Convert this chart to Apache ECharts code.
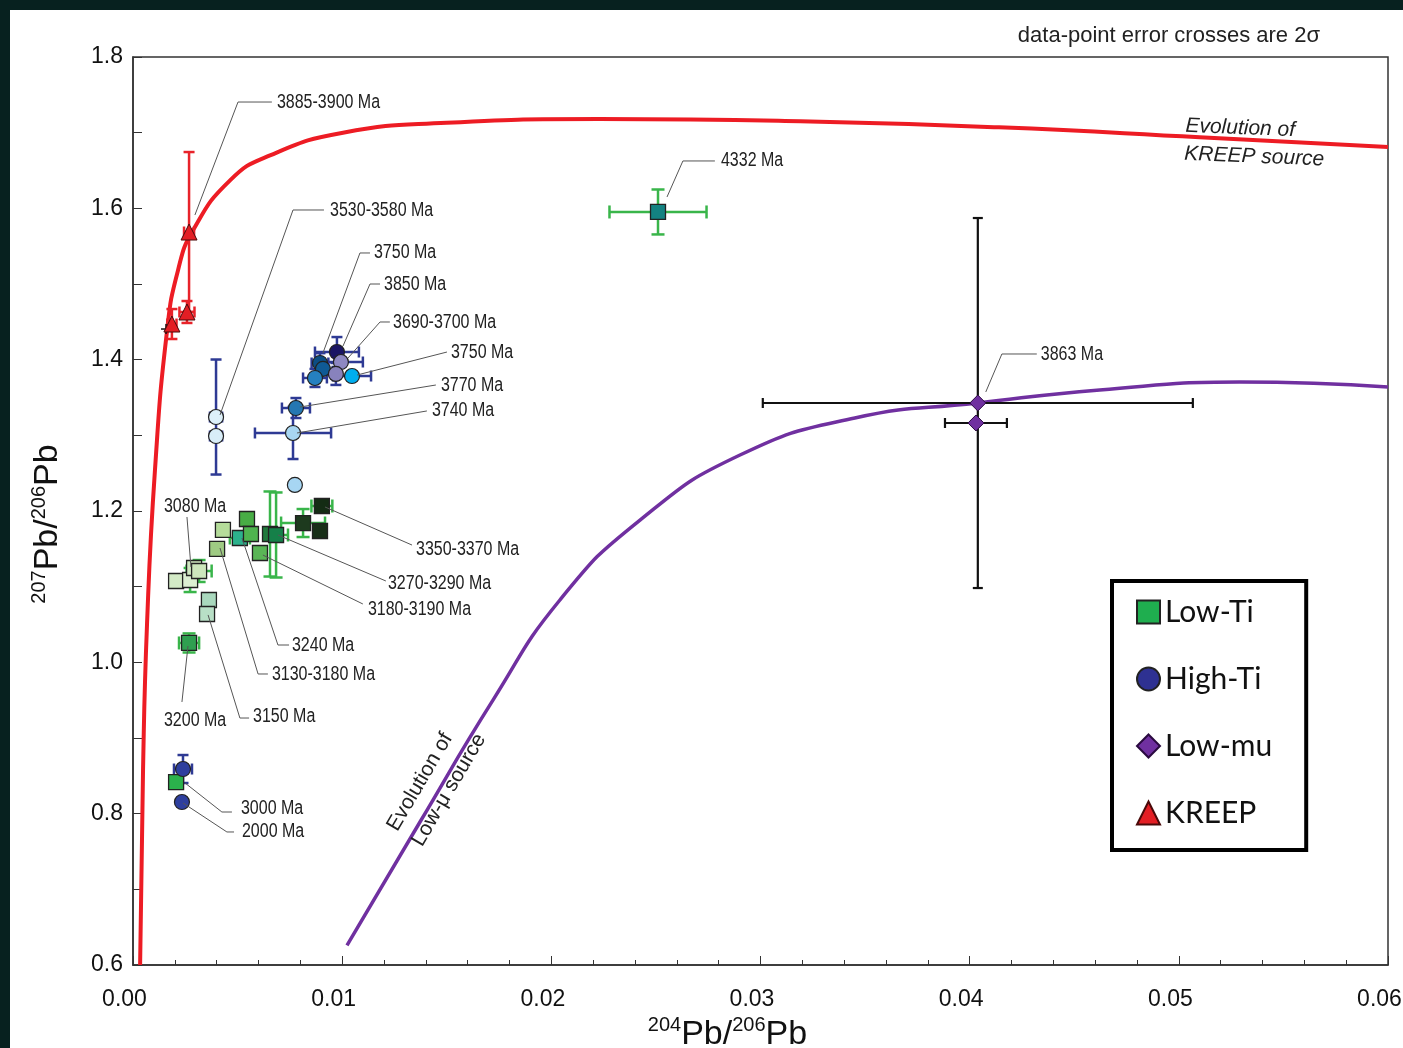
<!DOCTYPE html>
<html>
<head>
<meta charset="utf-8">
<title>Pb isotope evolution</title>
<script src="https://cdn.jsdelivr.net/npm/echarts@6/dist/echarts.min.js"></script>
<style>
  html, body { margin: 0; padding: 0; width: 1403px; height: 1048px; overflow: hidden; background: #07211f; }
  #paper { position: absolute; left: 10px; top: 10px; width: 1393px; height: 1038px; background: #fff; }
  #chart { position: absolute; left: 0; top: 0; width: 1403px; height: 1048px; }
</style>
</head>
<body>
<div id="paper"></div>
<div id="chart"></div>
<script>
// tick labels
var xTickLabels = ['0.00', '0.01', '0.02', '0.03', '0.04', '0.05', '0.06'];
var yTickLabels = ['0.6', '0.8', '1.0', '1.2', '1.4', '1.6', '1.8'];

// Low-Ti (squares)
var lowTiX    = [0.00206, 0.00273, 0.00292, 0.00316, 0.00363, 0.00354, 0.00268, 0.0043, 0.00402, 0.00545, 0.00511, 0.00564, 0.00607, 0.00655, 0.00684, 0.00813, 0.00903, 0.00894, 0.00206, 0.0251];
var lowTiY    = [1.1075, 1.1088, 1.1247, 1.1207, 1.0824, 1.0639, 1.0256, 1.175, 1.150, 1.1894, 1.1643, 1.1696, 1.1445, 1.1696, 1.1683, 1.1841, 1.2066, 1.1736, 0.8418, 1.5952];
var lowTiXErr = [0, 0, 0, 0.0006, 0, 0, 0.00048, 0, 0, 0, 0.00048, 0, 0, 0, 0.00057, 0.00105, 0.0005, 0, 0, 0.00232];
var lowTiYErr = [0, 0.0159, 0, 0.0145, 0, 0, 0.0126, 0, 0, 0, 0, 0, 0, 0.0562, 0.0562, 0.0185, 0, 0, 0, 0.0297];
var lowTiFill = ['#d3eac6', '#dcefd2', '#d0e7c1', '#cde6bd', '#a9d8bd', '#b8dfc6', '#2f9f50', '#b5dc9a', '#9fcb83', '#48ad45',
                 '#2cb18c', '#4fb44f', '#5ab556', '#217a3d', '#158049', '#1d3a1e', '#142c14', '#182f18', '#2bb24c', '#138281'];

// High-Ti (circles)
var highTiX    = [0.00975, 0.00994, 0.00894, 0.00908, 0.0087, 0.0097, 0.01047, 0.00779, 0.00765, 0.00397, 0.00397, 0.00774, 0.00239, 0.00234];
var highTiY    = [1.4101, 1.3969, 1.3956, 1.3877, 1.3758, 1.3811, 1.3784, 1.3361, 1.3031, 1.3242, 1.2991, 1.2344, 0.859, 0.8154];
var highTiXErr = [0.00105, 0.00105, 0.0004, 0, 0.00057, 0, 0.00091, 0.00067, 0.00182, 0.00029, 0.00029, 0, 0.00043, 0];
var highTiYErr = [0.0198, 0, 0.013, 0, 0.0119, 0.0145, 0, 0.0132, 0.0344, 0.076, 0, 0, 0.0185, 0];
var highTiFill = ['#1b1564', '#8e88c2', '#0c4d84', '#0f5a95', '#2580c0', '#8882bd', '#00aeef', '#2577b2', '#a8d6f1', '#ddf0f9',
                  '#d8edf8', '#a7d6f3', '#2e3f9e', '#2e3f9e'];

// Low-mu (diamonds)
var lowMuX    = [0.04039, 0.0403];
var lowMuY    = [1.3427, 1.3163];
var lowMuXErr = [0.01028, 0.00148];
var lowMuYErr = [0.2445, 0];

// KREEP (triangles)
var kreepX    = [0.00268, 0.00258, 0.00186];
var kreepY    = [1.5687, 1.463, 1.4471];
var kreepXErr = [0.00024, 0.00036, 0.00022];
var kreepYErr = [0.1057, 0.0145, 0.0198];

// small black cross next to the lowest KREEP point
var crossX = [0.00158];
var crossY = [1.4405];
var crossXErr = [0.00024];
var crossYErr = [0.0066];

// evolution curves
var kreepCurveX = [0.00034, 0.00048, 0.00067, 0.00105, 0.00163, 0.00215, 0.00287, 0.00464, 0.00655, 0.01004, 0.015, 0.0223, 0.0319, 0.0414, 0.051, 0.06];
var kreepCurveY = [0.6, 0.858, 1.05, 1.254, 1.439, 1.518, 1.571, 1.637, 1.670, 1.700, 1.713, 1.718, 1.715, 1.707, 1.694, 1.681];
var lowMuCurveX = [0.01023, 0.01372, 0.01721, 0.02041, 0.02424, 0.02902, 0.03451, 0.04039, 0.04622, 0.0529, 0.06];
var lowMuCurveY = [0.626, 0.789, 0.950, 1.0824, 1.188, 1.274, 1.323, 1.3427, 1.360, 1.3705, 1.364];

// age labels: leader start, elbow, end, text anchor
var annText = ['3885-3900 Ma', '3530-3580 Ma', '3750 Ma', '3850 Ma', '3690-3700 Ma', '3750 Ma', '3770 Ma', '3740 Ma', '3080 Ma',
               '3350-3370 Ma', '3270-3290 Ma', '3180-3190 Ma', '3240 Ma', '3130-3180 Ma', '3150 Ma', '3200 Ma', '3000 Ma', '2000 Ma',
               '4332 Ma', '3863 Ma'];
var annStart = [[0.00296, 1.5912], [0.00416, 1.3269], [0.00908, 1.4088], [0.01004, 1.418], [0.01028, 1.4022], [0.01071, 1.3797],
                [0.00798, 1.3374], [0.00784, 1.3031], [0.00277, 1.126], [0.00918, 1.2053], [0.00693, 1.1683], [0.00621, 1.1418],
                [0.00521, 1.1643], [0.00416, 1.1511], [0.00359, 1.0626], [0.00263, 1.0216], [0.00249, 0.8405], [0.00239, 0.8141],
                [0.02553, 1.615], [0.04077, 1.3573]];
var annElbow = [[0.00502, 1.7405], [0.00765, 1.5978], [0.01085, 1.541], [0.01133, 1.5], [0.01181, 1.4498], [0.01501, 1.4101],
                [0.01448, 1.3665], [0.01405, 1.3322], [0.00258, 1.1921], [0.01334, 1.155], [0.01209, 1.1075], [0.01099, 1.0771],
                [0.00693, 1.0229], [0.00598, 0.9846], [0.00511, 0.9264], [0.00234, 0.9476], [0.00425, 0.8022], [0.00449, 0.7758],
                [0.02629, 1.6626], [0.04154, 1.4075]];
var annEnd   = [[0.00664, 1.7405], [0.00913, 1.5978], [0.01133, 1.541], [0.01181, 1.5], [0.01228, 1.4498], [0.01501, 1.4101],
                [0.01448, 1.3665], [0.01405, 1.3322], [0.00258, 1.1921], [0.01334, 1.155], [0.01209, 1.1075], [0.01099, 1.0771],
                [0.00746, 1.0229], [0.00645, 0.9846], [0.00555, 0.9264], [0.00234, 0.9476], [0.00473, 0.8022], [0.00483, 0.7758],
                [0.02782, 1.6626], [0.04321, 1.4075]];
var annAt    = [[0.00688, 1.7405], [0.00942, 1.5978], [0.01152, 1.541], [0.012, 1.5], [0.01243, 1.4498], [0.0152, 1.4101],
                [0.01472, 1.3665], [0.01429, 1.3335], [0.00148, 1.2066], [0.01353, 1.1498], [0.01219, 1.1048], [0.01123, 1.0692],
                [0.0076, 1.0229], [0.00664, 0.9833], [0.00574, 0.9278], [0.00148, 0.9225], [0.00516, 0.8075], [0.00521, 0.7758],
                [0.02811, 1.6626], [0.0434, 1.4062]];

var sansFont = '"Liberation Sans", Arial, sans-serif';

function zip2(a, b) { return a.map(function (v, i) { return [v, b[i]]; }); }
function zip4(a, b, c, d) { return a.map(function (v, i) { return [v, b[i], c[i], d[i]]; }); }
function filled(xs, ys, fills) {
  return xs.map(function (x, i) { return { value: [x, ys[i]], itemStyle: { color: fills[i] } }; });
}

// error crosses with caps
function errorBars(color, cap, width) {
  return function (params, api) {
    var x = api.value(0), y = api.value(1), ex = api.value(2), ey = api.value(3);
    var c = api.coord([x, y]);
    var st = { stroke: color, lineWidth: width };
    var kids = [];
    if (ex > 0) {
      var l = api.coord([x - ex, y])[0], r = api.coord([x + ex, y])[0];
      kids.push({ type: 'line', shape: { x1: l, y1: c[1], x2: r, y2: c[1] }, style: st });
      if (cap) {
        kids.push({ type: 'line', shape: { x1: l, y1: c[1] - cap / 2, x2: l, y2: c[1] + cap / 2 }, style: st });
        kids.push({ type: 'line', shape: { x1: r, y1: c[1] - cap / 2, x2: r, y2: c[1] + cap / 2 }, style: st });
      }
    }
    if (ey > 0) {
      var t = api.coord([x, y + ey])[1], b = api.coord([x, y - ey])[1];
      kids.push({ type: 'line', shape: { x1: c[0], y1: t, x2: c[0], y2: b }, style: st });
      if (cap) {
        kids.push({ type: 'line', shape: { x1: c[0] - cap / 2, y1: t, x2: c[0] + cap / 2, y2: t }, style: st });
        kids.push({ type: 'line', shape: { x1: c[0] - cap / 2, y1: b, x2: c[0] + cap / 2, y2: b }, style: st });
      }
    }
    return { type: 'group', children: kids };
  };
}

function errSeries(xs, ys, exs, eys, color, cap, width) {
  return {
    type: 'custom', z: 3, silent: true,
    data: zip4(xs, ys, exs, eys),
    encode: { x: 0, y: 1 },
    renderItem: errorBars(color, cap, width)
  };
}

var annData = annStart.map(function (s, i) {
  return [s[0], s[1], annElbow[i][0], annElbow[i][1], annEnd[i][0], annEnd[i][1], annAt[i][0], annAt[i][1]];
});

var chart = echarts.init(document.getElementById('chart'));

var option = {
  animation: false,
  title: {
    text: 'data-point error crosses are 2\u03c3',
    right: 78, top: 20,
    textStyle: { fontSize: 22, fontWeight: 'normal', color: '#222', fontFamily: sansFont }
  },
  grid: {
    left: 133, top: 57, right: 15, bottom: 83,
    outerBoundsMode: 'none',
    show: true, borderColor: '#333', borderWidth: 1.5
  },
  legend: {
    orient: 'vertical', left: 1112, top: 581,
    padding: [16, 34, 22, 24], itemGap: 37, itemWidth: 23, itemHeight: 23,
    borderColor: '#000', borderWidth: 4, backgroundColor: '#fff',
    textStyle: { fontSize: 30, color: '#111', fontFamily: 'Lato, "Open Sans", sans-serif' },
    data: [
      { name: 'Low-Ti', icon: 'rect' },
      { name: 'High-Ti', icon: 'circle' },
      { name: 'Low-mu', icon: 'diamond' },
      { name: 'KREEP', icon: 'triangle' }
    ]
  },
  xAxis: {
    type: 'value',
    min: parseFloat(xTickLabels[0]), max: parseFloat(xTickLabels[xTickLabels.length - 1]), interval: 0.01,
    name: '{sup|204}{big|Pb/}{sup|206}{big|Pb}', nameLocation: 'middle', nameGap: 42,
    nameTextStyle: {
      padding: [0, 66, 0, 0],
      rich: {
        big: { fontSize: 34, lineHeight: 38, color: '#111', fontFamily: sansFont },
        sup: { fontSize: 20, lineHeight: 20, verticalAlign: 'top', color: '#111', fontFamily: sansFont }
      }
    },
    axisLine: { lineStyle: { color: '#333', width: 1.5 } },
    axisTick: { inside: true, length: 9, lineStyle: { color: '#333' } },
    minorTick: { show: true, splitNumber: 5, length: 5, lineStyle: { color: '#333' } },
    splitLine: { show: false },
    axisLabel: {
      margin: 23, fontSize: 23, color: '#111', fontFamily: sansFont, padding: [0, 17, 0, 0],
      formatter: function (v) { return v.toFixed(2); }
    }
  },
  yAxis: {
    type: 'value',
    min: parseFloat(yTickLabels[0]), max: parseFloat(yTickLabels[yTickLabels.length - 1]), interval: 0.2,
    name: '{sup|207}{big|Pb/}{sup|206}{big|Pb}', nameLocation: 'middle', nameGap: 66, nameRotate: 90,
    nameTextStyle: {
      padding: [0, 26, 0, 0],
      rich: {
        big: { fontSize: 34, lineHeight: 38, color: '#111', fontFamily: sansFont },
        sup: { fontSize: 20, lineHeight: 20, verticalAlign: 'top', color: '#111', fontFamily: sansFont }
      }
    },
    axisLine: { lineStyle: { color: '#333', width: 1.5 } },
    axisTick: { inside: true, length: 9, lineStyle: { color: '#333' } },
    minorTick: { show: true, splitNumber: 2, length: 9, lineStyle: { color: '#333' } },
    splitLine: { show: false },
    axisLabel: {
      margin: 10, fontSize: 23, color: '#111', fontFamily: sansFont,
      formatter: function (v) { return v.toFixed(1); }
    }
  },
  graphic: [
    {
      type: 'text', x: 1186, y: 112, rotation: -0.04, z: 10,
      style: { text: 'Evolution of\nKREEP source', font: 'italic 21px ' + sansFont, fill: '#222', lineHeight: 28 }
    },
    {
      type: 'text', x: 420, y: 782, rotation: 1.04, z: 10,
      style: { text: 'Evolution of', font: '21px ' + sansFont, fill: '#222', align: 'center', verticalAlign: 'middle', textAlign: 'center', textVerticalAlign: 'middle' }
    },
    {
      type: 'text', x: 449, y: 790, rotation: 1.04, z: 10,
      style: { text: 'Low-\u03bc source', font: '21px ' + sansFont, fill: '#222', align: 'center', verticalAlign: 'middle', textAlign: 'center', textVerticalAlign: 'middle' }
    }
  ],
  series: [
    {
      name: 'KREEP curve', type: 'line', z: 1, silent: true, showSymbol: false,
      smooth: 0.5,
      data: zip2(kreepCurveX, kreepCurveY),
      lineStyle: { color: '#ed1c24', width: 4 }
    },
    {
      name: 'Low-mu curve', type: 'line', z: 1, silent: true, showSymbol: false,
      smooth: 0.5,
      data: zip2(lowMuCurveX, lowMuCurveY),
      lineStyle: { color: '#7030a0', width: 3.5 }
    },
    errSeries(lowTiX, lowTiY, lowTiXErr, lowTiYErr, '#39b54a', 13, 2.5),
    errSeries(highTiX, highTiY, highTiXErr, highTiYErr, '#2e3a94', 11, 2.5),
    errSeries(lowMuX, lowMuY, lowMuXErr, lowMuYErr, '#111', 10, 2.2),
    errSeries(kreepX, kreepY, kreepXErr, kreepYErr, '#e8232a', 11, 2.5),
    errSeries(crossX, crossY, crossXErr, crossYErr, '#111', 0, 1.5),
    {
      name: 'Low-Ti', type: 'scatter', z: 5, symbol: 'rect', symbolSize: 15,
      itemStyle: { color: '#1fae4f', borderColor: '#222', borderWidth: 1.3, opacity: 1 },
      data: filled(lowTiX, lowTiY, lowTiFill)
    },
    {
      name: 'High-Ti', type: 'scatter', z: 5, symbol: 'circle', symbolSize: 15,
      itemStyle: { color: '#2e3192', borderColor: '#222', borderWidth: 1.2, opacity: 1 },
      data: filled(highTiX, highTiY, highTiFill)
    },
    {
      name: 'Low-mu', type: 'scatter', z: 5, symbol: 'diamond', symbolSize: 16,
      itemStyle: { color: '#7030a0', borderColor: '#2a0a40', borderWidth: 1, opacity: 1 },
      data: zip2(lowMuX, lowMuY)
    },
    {
      name: 'KREEP', type: 'scatter', z: 5, symbol: 'triangle', symbolSize: 16,
      itemStyle: { color: '#e31e24', borderColor: '#4a0a0a', borderWidth: 1, opacity: 1 },
      data: zip2(kreepX, kreepY)
    },
    {
      name: 'ages', type: 'custom', z: 6, silent: true,
      data: annData,
      encode: { x: [0, 2, 4, 6], y: [1, 3, 5, 7] },
      renderItem: function (params, api) {
        var i = params.dataIndex;
        var p0 = api.coord([api.value(0), api.value(1)]);
        var p1 = api.coord([api.value(2), api.value(3)]);
        var p2 = api.coord([api.value(4), api.value(5)]);
        var pt = api.coord([api.value(6), api.value(7)]);
        return {
          type: 'group',
          children: [
            { type: 'polyline', shape: { points: [p0, p1, p2] }, style: { stroke: '#555', lineWidth: 1, fill: 'none' } },
            {
              // condensed label, like the narrow font in the original
              type: 'text', x: pt[0], y: pt[1], scaleX: 0.8,
              style: { text: annText[i], font: '20px ' + sansFont, fill: '#222', align: 'left', verticalAlign: 'middle', textAlign: 'left', textVerticalAlign: 'middle' }
            }
          ]
        };
      }
    }
  ]
};

chart.setOption(option);
</script>
</body>
</html>
